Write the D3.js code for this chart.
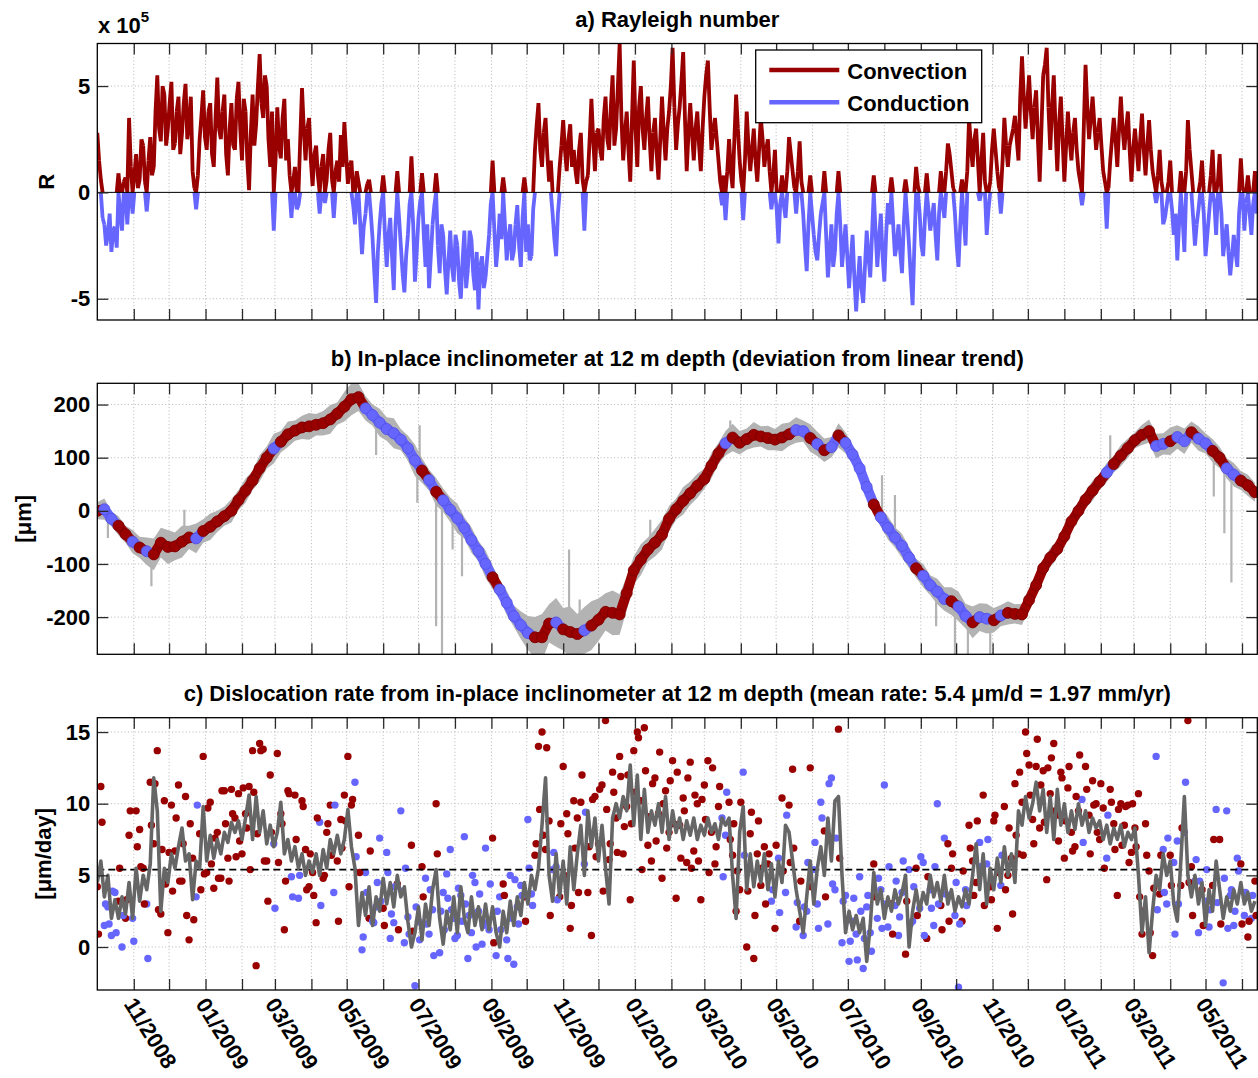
<!DOCTYPE html>
<html>
<head>
<meta charset="utf-8">
<script src="https://cdn.jsdelivr.net/npm/d3@7"></script>
<style>
  body { margin: 0; background: #fff; }
  svg { display: block; }
  text { font-family: "Liberation Sans", Arial, Helvetica, sans-serif; font-weight: bold; fill: #000; }
</style>
</head>
<body>
<svg id="chart" width="1258" height="1078"></svg>
<script>
// ---------------------------------------------------------------------------
// Data
// ---------------------------------------------------------------------------
const startDate = new Date(2008, 9, 1);   // 1 Oct 2008
const endDate = new Date(2011, 5, 14);    // 14 Jun 2011

// Rayleigh number R (units of 1e5), one value every 3 days from startDate
const rayleighStepDays = 3;
const rayleigh = [
  2.8, 0.6, -1.5, -2.0, -2.8, -1.6, 0.9, -1.8, 0.7, 3.5,
  -1.0, 1.8, 0.6, 2.2, -0.9, 2.6, 1.2, 5.5, 2.4, 4.6,
  3.0, 5.2, 2.3, 4.5, 2.8, 5.1, 3.2, 1.0, -0.8, 2.5,
  4.8, 2.0, 4.2, 1.2, 5.4, 2.5, 4.6, 0.8, 4.2, 2.0,
  5.2, 1.5, 3.8, 0.1, 4.6, 3.2, 6.5, 3.5, 5.0, 1.2,
  -1.8, 4.0, 1.6, 4.4, 2.5, -1.2, 1.2, -0.6, 4.9, 1.5,
  3.5, 0.3, 2.2, -1.0, 1.8, 0.6, 2.8, -1.2, 1.5, 2.7,
  3.3, 0.4, 1.5, -1.5, 0.5, -2.9, -1.0, 0.6, -2.2, -5.2,
  -1.5, 0.8, -3.5, -1.2, -4.6, 1.0, -2.5, -4.7, -2.0, 1.7,
  -4.2, -1.2, 0.9, -3.5, -4.5, -1.5, 0.9, -3.8, -2.0, -4.8,
  -1.8, -4.2, -2.5, -5.0, -1.8, -3.6, -2.2, -4.6, -5.5, -3.0,
  -4.0, -2.0, 1.5, -3.5, -1.0, 0.7, -3.2, -1.5, -2.8, -0.6,
  -3.5, 0.7, -1.5, -3.0, 2.0, 4.2, 1.2, 3.5, 0.5, -1.0,
  -3.0, 1.2, 3.4, 1.0, 3.2, 2.0, 0.4, 2.8, -1.8, 0.8,
  4.4, 1.0, 3.0, 1.5, 4.5, 2.0, 5.5, 3.0, 7.0, 1.5,
  3.8, 0.5, 6.2, 1.2, 5.0, 2.0, 4.5, 1.0, 3.5, 0.6,
  4.5, 1.5, 3.8, 6.8, 2.0, 4.0, 6.6, 1.0, 4.2, 1.5,
  3.8, 1.0, 4.5, 6.2, 2.0, 3.5, 1.5, -0.6, -1.3, 2.5,
  0.2, 4.6, 1.5, -1.3, 3.8, 1.0, 3.0, 0.5, 3.5, 1.2,
  2.5, -0.8, 2.0, -2.4, 0.8, -1.2, 2.6, 1.0, -1.0, 2.4,
  -1.0, -3.7, 0.8, -2.0, -3.2, -1.0, 1.0, -4.0, -1.5, -2.8,
  1.0, -3.5, -1.5, -4.5, -2.0, -5.6, -3.0, -5.2, -1.8, -4.0,
  0.8, -3.5, -1.0, -4.2, -0.5, 0.7, -3.0, -1.5, -3.8, 0.6,
  -2.5, -5.3, 1.2, -1.0, -3.0, 0.9, -1.8, -0.5, -3.2, 1.0,
  -1.2, 2.3, 1.0, -1.0, -3.5, 0.6, -2.5, 3.5, 1.2, 3.0,
  -0.4, 2.8, -2.0, 0.5, 3.0, 1.0, -1.0, 3.5, 1.2, 2.6,
  3.6, 1.5, 6.4, 3.0, 5.5, 2.5, 4.8, 0.5, 5.5, 6.8,
  2.0, 5.5, 1.0, 4.5, 0.5, 3.8, 1.5, 3.5, 1.0, -0.6,
  6.0, 2.5, 4.5, 2.0, 3.5, 1.0, -1.7, 1.5, 3.5, 1.2,
  4.5, 2.0, 3.8, 0.5, 3.0, 1.0, 3.7, 0.8, 3.4, 1.0,
  -0.5, 2.0, -1.5, -0.6, 1.5, -2.0, -3.2, 1.0, -2.8, 3.4,
  1.0, -2.5, -0.8, 1.5, -3.0, -1.0, 2.0, -2.0, 1.8, -3.0,
  -1.5, -3.9, -2.0, -3.5, 1.6, -1.8, 0.8, -2.0, 1.0
];

// Rayleigh number (units of 1e5) 36 hours after each of the dates above
const rayleighMid = [
  1.5, -1.2, -2.5, -1.0, -1.8, -2.6, -1.0, 0.5, -1.5, 1.2,
  0.8, 0.2, 2.5, 0.5, 1.5, 0.8, 3.8, 3.0, 5.0, 2.2,
  4.2, 2.0, 3.8, 1.8, 4.2, 2.5, 4.5, 0.2, 0.8, 3.6,
  2.6, 3.8, 1.8, 3.5, 3.0, 3.8, 1.8, 3.0, 2.2, 4.4,
  3.0, 4.4, 1.5, 2.8, 2.2, 5.0, 4.2, 5.5, 2.5, 3.8,
  1.5, 2.2, 3.5, 1.5, 0.8, 0.5, -0.8, 2.5, 3.0, 3.0,
  1.5, 1.8, 0.8, 1.2, -0.5, 2.0, 0.6, 1.0, 0.5, 1.2,
  1.8, 1.2, -0.6, 1.0, -1.5, -1.6, 0.4, -1.0, -3.8, -2.8,
  -0.5, -2.0, -2.0, -3.0, -1.5, -1.2, -3.8, -3.0, -0.5, -1.5,
  -2.8, -0.4, -2.0, -1.5, -3.0, -0.6, -2.5, -1.5, -3.6, -3.2,
  -3.5, -2.0, -4.2, -3.2, -4.5, -1.8, -3.8, -2.8, -3.5, -4.5,
  -3.0, -0.5, -1.8, -2.5, -2.2, -1.5, -2.2, -3.2, -1.5, -2.5,
  -1.2, -2.8, -3.2, -0.8, 3.2, 2.0, 2.8, 1.8, 1.5, -2.2,
  -1.0, 2.2, 2.0, 2.5, 1.2, 1.0, 2.0, 0.6, 0.5, 2.5,
  2.5, 2.8, 2.0, 3.5, 2.5, 4.0, 2.2, 5.0, 3.5, 2.8,
  2.0, 3.5, 3.0, 4.0, 3.0, 3.5, 2.5, 2.8, 1.8, 2.5,
  2.8, 3.0, 5.0, 4.0, 3.2, 5.2, 3.5, 2.8, 2.8, 3.0,
  2.2, 3.0, 5.5, 4.0, 2.8, 2.5, 0.5, 0.8, 1.0, 1.0,
  2.5, 3.0, 0.5, 1.5, 2.2, 2.0, 1.5, 2.0, 2.5, 2.0,
  1.0, 0.8, -0.8, -0.5, -0.6, 1.0, 1.8, 0.2, 1.0, 0.5,
  -2.5, -1.5, -1.0, -2.8, -2.0, -0.5, -2.0, -2.8, -3.5, -1.0,
  -1.5, -2.5, -3.0, -3.2, -4.0, -4.2, -4.5, -3.5, -3.0, -2.0,
  -1.8, -2.2, -3.0, -2.0, -1.5, -1.5, -2.5, -2.8, -1.5, -1.2,
  -4.0, -2.5, 0.3, -2.5, -1.2, -0.8, -1.2, -2.0, -1.0, -0.5,
  1.0, 1.8, 0.2, -2.5, -1.5, -1.2, 1.0, 2.2, 2.5, 1.5,
  1.5, 0.5, -0.8, 2.0, 2.0, 0.2, 1.5, 2.2, 2.2, 3.0,
  2.5, 4.5, 4.5, 4.2, 3.8, 4.0, 2.5, 3.0, 6.0, 4.0,
  4.0, 3.0, 3.2, 2.5, 2.2, 2.5, 2.8, 2.0, 0.5, 3.0,
  4.0, 3.5, 3.2, 2.8, 2.2, 0.5, 0.2, 2.5, 2.5, 3.0,
  3.0, 3.0, 2.0, 2.0, 2.0, 2.5, 2.0, 2.2, 2.0, 0.5,
  0.8, 0.5, -1.2, 0.5, -0.8, -1.0, -1.5, -1.2, 1.0, 2.0,
  -1.2, -1.5, 0.5, -1.0, -2.0, 0.8, -0.5, 0.5, -1.0, -2.2,
  -2.8, -3.0, -2.8, -1.0, 0.2, -0.5, -1.0, -0.5, -1.0
];

// Inclinometer deviation from linear trend (µm), one value every 6 days
const inclinationStepDays = 6;
const inclination = [
  0, 3, -15, -28, -44, -58, -69, -76, -82, -60,
  -68, -67, -58, -50, -52, -38, -30, -20, -10, 0,
  20, 38, 57, 80, 100, 117, 130, 144, 151, 157,
  159, 162, 165, 172, 183, 196, 210, 214, 193, 180,
  166, 154, 146, 134, 118, 95, 76, 58, 36, 20,
  2, -14, -32, -55, -76, -100, -125, -148, -173, -198,
  -215, -230, -238, -238, -212, -210, -223, -228, -232, -225,
  -216, -205, -190, -192, -195, -155, -112, -92, -73, -60,
  -45, -15, 3, 19, 33, 47, 60, 85, 108, 127,
  138, 128, 135, 143, 140, 137, 134, 138, 144, 152,
  150, 137, 126, 114, 120, 142, 128, 106, 80, 45,
  12, -12, -32, -50, -66, -88, -108, -122, -140, -152,
  -166, -170, -180, -198, -210, -200, -203, -206, -197, -192,
  -194, -195, -168, -140, -108, -88, -72, -48, -20, 0,
  21, 38, 55, 72, 88, 104, 118, 133, 143, 150,
  122, 126, 131, 139, 131, 148, 136, 127, 113, 100,
  80, 68, 57, 48, 35
];

// Scatter of the raw inclinometer readings around the curve (µm, half-width)
const rawSpread = [
  16, 20, 14, 18, 16, 22, 20, 26, 30, 28,
  32, 26, 30, 22, 28, 22, 25, 20, 18, 22,
  19, 23, 18, 25, 21, 28, 20, 24, 19, 22,
  25, 20, 23, 27, 21, 28, 30, 26, 23, 20,
  26, 22, 28, 20, 24, 30, 23, 20, 26, 22,
  23, 28, 20, 24, 19, 26, 22, 18, 23, 20,
  26, 32, 38, 44, 36, 46, 40, 48, 38, 44,
  46, 40, 35, 42, 38, 32, 26, 29, 23, 26,
  28, 24, 20, 26, 22, 23, 19, 24, 20, 23,
  26, 22, 20, 24, 19, 23, 20, 26, 22, 24,
  20, 26, 23, 22, 19, 23, 20, 18, 22, 19,
  20, 18, 22, 19, 23, 20, 18, 22, 19, 24,
  22, 26, 28, 23, 30, 26, 28, 23, 20, 22,
  18, 20, 16, 19, 15, 18, 16, 19, 15, 18,
  16, 19, 15, 18, 16, 20, 18, 15, 19, 22,
  23, 20, 26, 22, 24, 20, 23, 19, 22, 20,
  19, 22, 18, 20, 18
];

// Isolated outliers in the raw readings: [date, from µm, to µm]
const rawSpikes = [
  ["2008-10-10", -10, -51], ["2008-11-16", -82, -142], ["2008-12-14", -58, 2],
  ["2009-05-26", 172, 105], ["2009-06-30", 80, 15], ["2009-07-02", 78, 161],
  ["2009-07-16", 40, -217], ["2009-07-21", 25, -270], ["2009-07-30", 0, -73],
  ["2009-08-07", -25, -123], ["2009-11-06", -225, -73], ["2009-11-15", -230, -167],
  ["2010-01-14", -90, -17], ["2010-03-23", 130, 170], ["2010-07-30", -20, 67],
  ["2010-08-10", -50, 30], ["2010-09-14", -140, -217], ["2010-09-30", -172, -270],
  ["2010-10-11", -205, -270], ["2010-10-30", -205, -270], ["2011-02-09", 85, 142],
  ["2011-05-08", 125, 27], ["2011-05-17", 95, -42], ["2011-05-23", 75, -135]
];

// Dislocation rate (µm/day) on the rayleigh dates
const rateDaily = [
  4.2, 11.2, 1.5, 2.8, 0.8, 3.8, 3.2, 0.0, 2.0, 7.8,
  2.0, 9.5, 8.2, 5.5, 3.0, 11.5, 7.2, 13.7, 2.3, 10.2,
  1.0, 9.9, 6.7, 11.3, 4.6, 10.5, 0.5, 6.2, 3.5, 7.9,
  13.3, 5.2, 10.1, 4.1, 8.0, 4.8, 10.9, 6.2, 11.0, 9.0,
  10.7, 6.5, 9.3, 11.2, 13.7, -1.3, 14.2, 13.8, 6.0, 12.0,
  7.2, 13.5, 9.3, 1.2, 10.9, 4.9, 10.6, 3.4, 10.2, 6.8,
  4.2, 5.2, 1.7, 8.7, 4.8, 8.0, 9.9, 3.8, 6.0, 8.9,
  10.6, 13.3, 9.9, 11.5, 7.8, -0.2, 5.2, 2.0, 1.8, 2.8,
  7.6, 2.7, 6.6, 0.6, 1.7, 4.4, 9.5, 0.3, 2.1, 7.1,
  -2.7, 1.8, 5.6, 4.8, 0.9, 2.6, 10.0, -0.4, 3.8, 5.1,
  6.8, 2.0, 0.8, 3.6, 7.7, -0.8, 1.0, 4.5, 2.5, 0.2,
  6.9, 1.2, 7.6, -0.6, 3.5, 4.4, 0.5, 5.0, -1.2, 2.8,
  4.3, 3.5, 8.9, 3.7, 6.4, 14.0, 15.0, 6.8, 8.8, 5.4,
  5.6, 3.5, 12.6, 9.3, 1.3, 10.2, 9.0, 10.1, 5.8, 3.8,
  0.8, 10.5, 7.2, 11.3, 15.8, 6.1, 12.2, 9.0, 13.3, 6.5,
  9.8, 3.3, 13.7, 15.0, 10.2, 15.3, 7.1, 6.0, 11.8, 9.3,
  4.8, 10.9, 8.0, 13.0, 3.4, 8.5, 10.4, 5.9, 12.9, 6.7,
  10.0, 3.3, 11.3, 13.0, 8.0, 5.8, 9.8, 9.0, 7.8, 10.1,
  6.4, 2.5, 4.0, 12.2, 0.0, 7.9, -0.8, 6.5, 4.3, 7.0,
  5.8, 3.2, 1.3, 6.2, 10.4, 3.8, 9.9, 12.4, 1.4, 1.8,
  0.8, 2.5, 12.5, 5.4, 3.0, 10.1, 8.1, 1.6, 11.8, 4.0,
  15.2, 0.3, 3.6, -1.0, 1.8, 0.9, 4.9, -1.5, 2.8, 1.0,
  5.8, 2.0, 4.0, 11.3, 1.4, 3.0, 2.9, 0.8, 3.8, -0.5,
  5.4, 1.8, 5.5, 2.7, 5.9, 0.6, 4.0, 1.5, 10.0, 2.9,
  7.6, 7.2, 5.5, 2.2, -2.8, 1.8, 4.0, 8.5, 6.0, 4.5,
  7.3, 10.6, 5.8, 4.2, 8.8, 1.3, 4.3, 9.8, 5.0, 6.2,
  11.4, 6.5, 10.1, 15.0, 12.7, 8.9, 12.6, 8.3, 12.3, 4.7,
  10.7, 14.2, 9.2, 12.2, 6.2, 11.1, 8.0, 7.0, 9.5, 10.3,
  12.6, 9.2, 11.6, 10.0, 7.5, 9.7, 6.2, 11.0, 8.6, 3.6,
  10.0, 8.5, 9.9, 6.6, 8.3, 10.7, 0.9, 8.6, 5.3, -0.6,
  13.3, 3.7, 6.8, 3.0, 6.4, 5.9, 7.4, 4.3, 8.0, 15.8,
  5.6, 4.6, 1.0, 4.0, 3.2, 1.4, 4.3, 9.6, 7.5, -2.5,
  9.5, 3.6, 1.5, 6.2, 5.8, 2.2, 0.7, 2.0, 4.6
];

// Dislocation rate (µm/day) one day after each rayleigh date
const rateDailyNext = [
  0.9, 8.7, 3.0, 1.6, 3.9, 1.0, 5.5, 2.2, 3.3, 9.5,
  0.4, 7.0, 5.6, 3.0, -0.8, 8.5, 11.4, 2.6, 6.8, 4.4,
  6.6, 3.9, 9.0, 4.6, 7.2, 2.2, 8.6, 1.9, 9.9, 4.0,
  5.1, 9.7, 5.8, 7.6, 4.8, 10.9, 8.6, 4.6, 9.3, 6.3,
  7.4, 11.1, 8.3, 5.4, 10.8, 7.9, 13.7, 6.0, 3.2, 8.0,
  2.7, 5.9, 8.6, 4.6, 10.7, 3.5, 7.5, 5.0, 9.8, 4.0,
  6.5, 3.6, 9.0, 2.9, 5.0, 8.6, 6.4, 9.9, 1.8, 6.9,
  8.8, 4.2, 10.3, 6.3, 5.2, 0.7, 3.8, 6.7, 1.7, 4.5,
  3.2, 1.5, 5.2, 2.3, 4.2, 1.2, 3.9, 5.5, 0.9, 1.1,
  2.8, 0.5, 3.5, 1.6, 4.0, -0.6, 6.5, 2.5, 1.2, 3.4,
  2.6, 0.6, 4.1, 1.8, 3.0, 2.2, 5.0, 0.0, 3.7, 1.5,
  1.7, 4.4, 0.3, 2.5, 1.2, 3.6, -0.8, 2.0, 4.7, 1.6,
  3.6, 1.8, 5.5, 2.9, 7.2, 9.6, 7.8, 13.9, 2.2, 6.6,
  3.3, 8.6, 5.0, 7.9, 2.9, 6.9, 3.8, 12.0, 9.4, 7.0,
  10.3, 6.3, 11.0, 3.9, 9.6, 7.2, 10.8, 6.6, 11.9, 8.4,
  12.0, 8.6, 10.8, 14.6, 5.4, 12.3, 9.1, 11.4, 7.4, 13.6,
  10.0, 6.9, 11.6, 8.6, 12.2, 6.2, 9.5, 11.8, 5.5, 10.6,
  6.0, 10.3, 8.9, 5.2, 12.5, 7.0, 11.2, 4.9, 10.8, 7.5,
  8.6, 5.3, 10.1, 6.4, 3.9, 9.4, 2.2, 8.8, 5.5, 3.0,
  6.5, 4.0, 7.1, 2.4, 5.3, 9.2, 5.9, 6.9, 3.1, 4.6,
  2.8, 5.9, 4.2, 7.3, 1.3, 9.0, 3.5, 11.4, 4.4, 7.6,
  6.2, 3.2, 1.9, 0.4, 3.4, -0.9, 2.5, 0.6, 3.6, -0.3,
  3.5, 4.8, 1.3, 3.0, 5.6, 0.9, 4.6, 2.1, 6.0, 3.2,
  1.6, 4.2, 2.2, 6.3, 0.8, 4.9, 2.7, 5.6, 3.0, 1.2,
  3.7, 1.8, 6.5, 4.5, 1.6, 5.3, 2.9, 6.9, 3.6, 8.8,
  5.6, 2.9, 7.5, 3.3, 9.2, 5.2, 6.4, 4.0, 8.3, 2.3,
  7.8, 12.2, 6.4, 13.5, 10.6, 7.2, 14.5, 11.3, 8.7, 12.5,
  13.2, 9.5, 7.4, 11.8, 8.8, 12.6, 6.7, 10.5, 13.4, 7.3,
  11.0, 6.5, 9.9, 8.0, 11.4, 5.5, 9.2, 10.1, 6.8, 9.6,
  7.1, 9.8, 5.9, 10.0, 7.0, 3.5, 2.5, 6.4, 1.0, 4.1,
  2.6, 6.4, 3.8, 7.6, 4.3, 0.9, 3.0, 8.3, 11.5, 4.5,
  2.2, 6.1, 4.6, 1.5, 5.4, 2.6, 7.5, 3.1, 1.6, 4.8,
  1.3, 4.0, 2.5, 5.3, 1.6, 3.8, 1.8, 3.6, 2.2
];

// Smoothed dislocation rate (µm/day) on the rayleigh dates
const rateSmoothed = [
  4.5, 6.0, 3.5, 5.0, 2.0, 3.3, 2.0, 3.5, 2.3, 4.5,
  2.0, 5.5, 3.2, 5.0, 4.0, 5.8, 11.8, 9.5, 2.5, 5.5,
  4.5, 6.5, 5.5, 7.0, 8.3, 6.0, 6.5, 3.3, 6.0, 5.5,
  9.8, 6.0, 7.8, 6.2, 7.5, 6.5, 8.0, 7.3, 8.7, 8.0,
  8.8, 7.5, 9.0, 10.6, 7.5, 10.5, 8.0, 9.5, 7.2, 8.5,
  7.0, 8.0, 10.1, 6.5, 7.5, 6.0, 7.0, 5.5, 6.5, 5.0,
  6.0, 5.2, 6.5, 5.0, 6.8, 5.5, 7.5, 6.5, 7.8, 6.5,
  7.5, 9.6, 7.0, 5.5, 1.5, 3.8, 2.2, 4.2, 1.5, 3.5,
  2.5, 4.8, 3.0, 4.5, 2.8, 5.0, 3.5, 4.2, 1.8, 0.0,
  1.0, 2.8, 0.5, 3.0, 1.5, 4.0, 5.4, 2.0, 0.2, 2.5,
  1.2, 3.5, 1.0, 4.2, 2.0, 1.0, 3.5, 1.5, 2.8, 1.2,
  3.0, 1.2, 2.8, 1.0, 0.0, 2.5, 1.0, 3.2, 1.5, 3.5,
  2.2, 4.5, 3.0, 5.0, 4.0, 5.5, 8.5, 11.8, 5.0, 3.2,
  6.5, 3.5, 6.0, 3.0, 7.0, 4.0, 6.5, 8.5, 5.0, 9.5,
  7.0, 9.0, 6.0, 8.5, 5.5, 3.0, 9.0, 10.0, 9.0, 10.5,
  9.5, 12.7, 8.5, 12.0, 7.5, 11.0, 8.0, 9.5, 8.5, 10.0,
  8.0, 10.5, 7.5, 9.5, 8.0, 9.0, 7.5, 8.8, 7.8, 9.0,
  7.5, 8.5, 7.8, 9.0, 8.0, 8.6, 7.5, 9.0, 8.5, 9.0,
  5.0, 2.0, 8.0, 9.8, 4.0, 6.5, 4.2, 6.0, 4.5, 6.5,
  4.0, 5.8, 3.5, 6.0, 4.5, 8.5, 8.0, 6.0, 4.0, 2.5,
  1.0, 3.5, 6.0, 3.0, 5.5, 7.0, 5.0, 9.0, 6.0, 10.2,
  10.5, 5.0, 1.0, 2.5, 1.2, 2.2, 1.0, 2.0, -1.0, 1.5,
  5.2, 3.0, 4.0, 2.0, 3.5, 2.5, 4.0, 3.0, 3.8, 5.0,
  0.0, 2.5, 4.0, 2.5, 3.8, 3.0, 5.0, 3.5, 4.5, 3.2,
  5.0, 3.0, 4.0, 2.5, 3.5, 2.8, 4.0, 3.0, 5.0, 7.2,
  4.0, 6.5, 3.0, 5.5, 4.0, 6.2, 4.5, 7.0, 5.0, 6.5,
  4.5, 9.5, 8.5, 10.5, 9.0, 10.0, 11.5, 9.5, 11.0, 8.0,
  10.5, 7.5, 11.0, 8.5, 10.0, 8.0, 9.5, 8.2, 10.0, 8.5,
  9.5, 8.0, 9.0, 8.3, 8.8, 7.5, 8.5, 7.2, 8.3, 7.5,
  8.5, 7.0, 8.0, 7.5, 8.3, 5.0, 1.0, 3.5, -0.4, 2.5,
  5.0, 4.0, 6.5, 5.0, 6.0, 3.0, 1.8, 6.0, 10.5, 5.0,
  3.5, 5.0, 3.0, 4.5, 1.5, 4.0, 2.5, 6.0, 4.0, 2.0,
  3.5, 2.5, 4.0, 3.0, 4.5, 3.0, 3.8, 2.5, 3.2
];

const meanRate = 5.4; // µm/day

const regimes = ["Convection", "Conduction"];
const regimeColors = { Convection: "#990000", Conduction: "#6666ff" };

const panelTitles = [
  "a) Rayleigh number",
  "b) In-place inclinometer at 12 m depth (deviation from linear trend)",
  "c) Dislocation rate from in-place inclinometer at 12 m depth (mean rate: 5.4 \u03bcm/d = 1.97 mm/yr)"
];
const yLabels = ["R", "[\u03bcm]", "[\u03bcm/day]"];
const yTicksA = [-5, 0, 5];
const yTicksB = [-200, -100, 0, 100, 200];
const yTicksC = [0, 5, 10, 15];
const dateLabelFormat = "%m/%Y";

// ---------------------------------------------------------------------------
// Layout
// ---------------------------------------------------------------------------
const svg = d3.select("#chart");
const left = 97.3, right = 1257.3;
const fontSize = 22;

const x = d3.scaleTime().domain([startDate, endDate]).range([left, right]);
const months = d3.timeMonth.range(new Date(2008, 10, 1), endDate);

const panelSpecs = [
  { key: "a", top: 43.5, bottom: 320, domain: [-6, 7], ticks: yTicksA, labelX: 46.5 },
  { key: "b", top: 383.3, bottom: 654.3, domain: [-270, 240], ticks: yTicksB, labelX: 23 },
  { key: "c", top: 717.7, bottom: 990, domain: [-3, 16], ticks: yTicksC, labelX: 43 }
];

const defs = svg.append("defs");

function buildPanel(spec, idx) {
  const y = d3.scaleLinear().domain(spec.domain).range([spec.bottom, spec.top]);
  const g = svg.append("g").attr("class", "panel-" + spec.key);
  const clipId = "clip-" + spec.key;
  defs.append("clipPath").attr("id", clipId).append("rect")
    .attr("x", left).attr("y", spec.top)
    .attr("width", right - left).attr("height", spec.bottom - spec.top);

  // dotted grid
  const grid = g.append("g")
    .attr("stroke", "#b5b5b5").attr("stroke-width", 1).attr("stroke-dasharray", "1,2.4");
  grid.selectAll("line.gx").data(months).join("line").attr("class", "gx")
    .attr("x1", d => x(d)).attr("x2", d => x(d))
    .attr("y1", spec.top).attr("y2", spec.bottom);
  grid.selectAll("line.gy").data(spec.ticks).join("line").attr("class", "gy")
    .attr("x1", left).attr("x2", right)
    .attr("y1", d => y(d)).attr("y2", d => y(d));

  // title
  svg.append("text")
    .attr("x", (left + right) / 2).attr("y", spec.top - 17)
    .attr("text-anchor", "middle").attr("font-size", fontSize)
    .text(panelTitles[idx]);

  // y label
  svg.append("text")
    .attr("transform", `translate(${spec.labelX},${(spec.top + spec.bottom) / 2}) rotate(-90)`)
    .attr("text-anchor", "middle").attr("dominant-baseline", "central")
    .attr("font-size", fontSize)
    .text(yLabels[idx]);

  const plot = g.append("g").attr("clip-path", `url(#${clipId})`);
  return { spec, y, g, plot };
}

function styleAxis(sel) {
  sel.attr("font-family", null).attr("font-size", null);
  sel.select(".domain").remove();
  sel.selectAll(".tick line").attr("stroke", "#2a2a2a").attr("stroke-width", 1.3);
  sel.selectAll(".tick text").attr("font-size", fontSize).attr("fill", "#000");
}

function finishPanel(p, withDates) {
  const { spec, y, g } = p;
  const fmt = d3.timeFormat(dateLabelFormat);
  const bottomAxis = d3.axisBottom(x).tickValues(months).tickSize(-11).tickSizeOuter(0)
    .tickFormat(d => (withDates && d.getMonth() % 2 === 0) ? fmt(d) : "");
  const ab = g.append("g").attr("transform", `translate(0,${spec.bottom})`).call(bottomAxis).call(styleAxis);
  if (withDates) {
    ab.selectAll(".tick text")
      .attr("x", null).attr("y", 0).attr("dy", null)
      .attr("text-anchor", "start")
      .attr("transform", "translate(-11,14) rotate(58)");
  }
  g.append("g").attr("transform", `translate(0,${spec.top})`)
    .call(d3.axisTop(x).tickValues(months).tickSize(-11).tickSizeOuter(0).tickFormat(() => ""))
    .call(styleAxis);
  g.append("g").attr("transform", `translate(${left},0)`)
    .call(d3.axisLeft(y).tickValues(spec.ticks).tickSize(-11).tickSizeOuter(0).tickPadding(7)
      .tickFormat(d => String(d)))
    .call(styleAxis);
  g.append("g").attr("transform", `translate(${right},0)`)
    .call(d3.axisRight(y).tickValues(spec.ticks).tickSize(-11).tickSizeOuter(0).tickFormat(() => ""))
    .call(styleAxis);
  g.append("rect")
    .attr("x", left).attr("y", spec.top)
    .attr("width", right - left).attr("height", spec.bottom - spec.top)
    .attr("fill", "none").attr("stroke", "#000").attr("stroke-width", 1.3);
}

// ---------------------------------------------------------------------------
// Shared series
// ---------------------------------------------------------------------------
const rDates = rayleigh.map((_, i) => d3.timeDay.offset(startDate, i * rayleighStepDays));
const regimeAt = i => rayleigh[i] > 0 ? regimes[0] : regimes[1];

// full Rayleigh record (both sampling times, in date order)
const rSeries = [];
rayleigh.forEach((v, i) => {
  rSeries.push([rDates[i], v]);
  if (i < rayleighMid.length) rSeries.push([d3.timeHour.offset(rDates[i], 36), rayleighMid[i]]);
});

// ---------------------------------------------------------------------------
// a) Rayleigh number
// ---------------------------------------------------------------------------
const pA = buildPanel(panelSpecs[0], 0);
{
  const { plot, y } = pA;
  const line = d3.line().x(d => x(d[0])).y(d => y(d[1]));
  const pos = [], neg = [];
  for (let i = 0; i < rSeries.length - 1; i++) {
    const [ta, a] = rSeries[i], [tb, b] = rSeries[i + 1];
    if (a > 0 || b > 0) pos.push([[ta, Math.max(a, 0)], [tb, Math.max(b, 0)]]);
    if (a < 0 || b < 0) neg.push([[ta, Math.min(a, 0)], [tb, Math.min(b, 0)]]);
  }
  plot.append("path").attr("d", neg.map(s => line(s)).join(""))
    .attr("fill", "none").attr("stroke", regimeColors.Conduction).attr("stroke-width", 3.8)
    .attr("stroke-linejoin", "round");
  plot.append("path").attr("d", pos.map(s => line(s)).join(""))
    .attr("fill", "none").attr("stroke", regimeColors.Convection).attr("stroke-width", 3.8)
    .attr("stroke-linejoin", "round");
  plot.append("line").attr("x1", left).attr("x2", right)
    .attr("y1", y(0)).attr("y2", y(0)).attr("stroke", "#000").attr("stroke-width", 1);

  // "x 10^5" multiplier
  const mult = svg.append("text").attr("x", 98).attr("y", 33).attr("font-size", fontSize);
  mult.append("tspan").text("x 10");
  mult.append("tspan").attr("font-size", 15).attr("dy", -11).text("5");

  // legend
  const lg = svg.append("g");
  lg.append("rect").attr("x", 755.7).attr("y", 50).attr("width", 226).attr("height", 72.7)
    .attr("fill", "#fff").attr("stroke", "#000").attr("stroke-width", 1.3);
  regimes.forEach((r, k) => {
    const yy = 70 + k * 32.3;
    lg.append("line").attr("x1", 769.3).attr("x2", 839.3).attr("y1", yy).attr("y2", yy)
      .attr("stroke", regimeColors[r]).attr("stroke-width", 4.5);
    lg.append("text").attr("x", 847.3).attr("y", yy + 9).attr("font-size", fontSize).text(r);
  });
}
finishPanel(pA, false);

// ---------------------------------------------------------------------------
// b) Inclinometer deviation
// ---------------------------------------------------------------------------
const pB = buildPanel(panelSpecs[1], 1);
{
  const { plot, y } = pB;
  const pts = inclination.map((v, k) => ({
    date: d3.timeDay.offset(startDate, k * inclinationStepDays),
    v, s: rawSpread[k],
    regime: regimeAt(Math.min(k * 2, rayleigh.length - 1))
  }));
  plot.append("path").datum(pts)
    .attr("d", d3.area().x(d => x(d.date)).y0(d => y(d.v - d.s)).y1(d => y(d.v + d.s)))
    .attr("fill", "#b3b3b3");
  const parse = d3.timeParse("%Y-%m-%d");
  plot.selectAll("line.spike").data(rawSpikes).join("line").attr("class", "spike")
    .attr("x1", d => x(parse(d[0]))).attr("x2", d => x(parse(d[0])))
    .attr("y1", d => y(d[1])).attr("y2", d => y(d[2]))
    .attr("stroke", "#b3b3b3").attr("stroke-width", 2.2);
  // thick regime-coloured trace
  const segs = d3.pairs(pts);
  plot.selectAll("line.seg").data(segs).join("line").attr("class", "seg")
    .attr("x1", d => x(d[0].date)).attr("y1", d => y(d[0].v))
    .attr("x2", d => x(d[1].date)).attr("y2", d => y(d[1].v))
    .attr("stroke", d => regimeColors[d[0].regime])
    .attr("stroke-width", 10).attr("stroke-linecap", "round");
  plot.selectAll("circle").data(pts).join("circle")
    .attr("cx", d => x(d.date)).attr("cy", d => y(d.v)).attr("r", 5.5)
    .attr("fill", d => regimeColors[d.regime])
    .attr("stroke", d => d.regime === regimes[0] ? "#7a0000" : "#5252e0")
    .attr("stroke-width", 0.8);
}
finishPanel(pB, false);

// ---------------------------------------------------------------------------
// c) Dislocation rate
// ---------------------------------------------------------------------------
const pC = buildPanel(panelSpecs[2], 2);
{
  const { plot, y } = pC;
  const dots = [
    ...rateDaily.map((v, i) => ({ date: rDates[i], v, regime: regimeAt(i) })),
    ...rateDailyNext.map((v, i) => ({ date: d3.timeDay.offset(rDates[i], 1), v, regime: regimeAt(i) }))
  ];
  plot.selectAll("circle").data(dots).join("circle")
    .attr("cx", d => x(d.date)).attr("cy", d => y(d.v)).attr("r", 3.7)
    .attr("fill", d => regimeColors[d.regime]);
  plot.append("line").attr("x1", left).attr("x2", right)
    .attr("y1", y(meanRate)).attr("y2", y(meanRate))
    .attr("stroke", "#000").attr("stroke-width", 1.8).attr("stroke-dasharray", "7,4");
  plot.append("path").datum(rateSmoothed)
    .attr("d", d3.line().x((d, i) => x(rDates[i])).y(d => y(d)))
    .attr("fill", "none").attr("stroke", "#666666").attr("stroke-width", 3.6)
    .attr("stroke-linejoin", "round");
}
finishPanel(pC, true);
</script>
</body>
</html>
